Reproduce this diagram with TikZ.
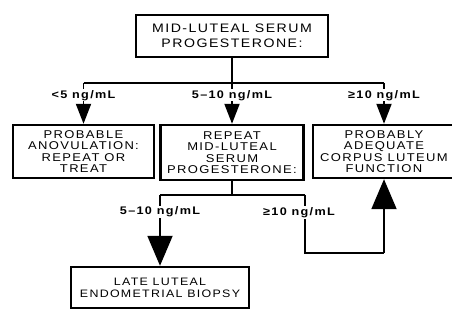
\documentclass[tikz,border=0pt]{standalone}
\usepackage{fontspec}
\setmainfont{Liberation Sans}[FakeStretch=1.15,LetterSpace=12]
\usetikzlibrary{arrows.meta}
\begin{document}
\begin{tikzpicture}[x=1pt,y=-1pt,
  box/.style={draw,line width=2.4pt,align=center,inner sep=0pt,
    font=\fontsize{11.3}{11.5}\selectfont},
  conn/.style={line width=1.9pt},
  arr/.style={conn,-{Triangle[length=20pt,width=15pt]}},
  bigarr/.style={conn,-{Triangle[length=30pt,width=25pt]}},
  lbl/.style={fill=white,inner sep=1pt,font=\bfseries\fontsize{11}{11}\selectfont}]
\useasboundingbox (0,0) rectangle (452,320);
\node[box,minimum width=192pt,minimum height=42pt,font=\fontsize{12.3}{15}\selectfont]
  (top) at (232,36) {MID-LUTEAL SERUM\\PROGESTERONE:};
\node[box,minimum width=141pt,minimum height=53pt] (left) at (83.5,151.5)
  {PROBABLE\\ANOVULATION:\\REPEAT OR\\TREAT};
\node[box,minimum width=143pt,minimum height=55pt] (mid) at (232,152.5)
  {REPEAT\\MID-LUTEAL\\SERUM\\PROGESTERONE:};
\node[box,minimum width=142pt,minimum height=53pt] (right) at (384,151.5)
  {PROBABLY\\ADEQUATE\\CORPUS LUTEUM\\FUNCTION};
\node[box,minimum width=178pt,minimum height=41pt,font=\fontsize{10.8}{12}\selectfont]
  (biopsy) at (160,287.5) {LATE LUTEAL\\ENDOMETRIAL BIOPSY};
% top split
\coordinate (hl) at (83.5,83);
\coordinate (hr) at (384,83);
\coordinate (hm) at (232,83);
\draw[conn] (top.south) -- (hm);
\draw[conn] (hl) -- (hr);
\draw[arr] (hl) -- node[lbl,pos=0.3]{<5 ng/mL} (left.north);
\draw[arr] (hm) -- node[lbl,pos=0.3]{5–10 ng/mL} (mid.north);
\draw[arr] (hr) -- node[lbl,pos=0.3]{≥10 ng/mL} (right.north);
% lower split
\coordinate (ml) at (160,195);
\coordinate (mm) at (232,195);
\coordinate (mr) at (305,195);
\coordinate (br) at (305,253);
\coordinate (bc) at (384,253);
\draw[conn] (mid.south) -- (mm);
\draw[conn] (ml) -- (mr);
\draw[bigarr] (ml) -- node[lbl,pos=0.24]{5–10 ng/mL} (biopsy.north);
\draw[conn] (mr) -- node[lbl,pos=0.3,xshift=-6pt]{≥10 ng/mL} (br) -- (bc);
\draw[bigarr] (bc) -- (right.south);
\end{tikzpicture}
\end{document}
